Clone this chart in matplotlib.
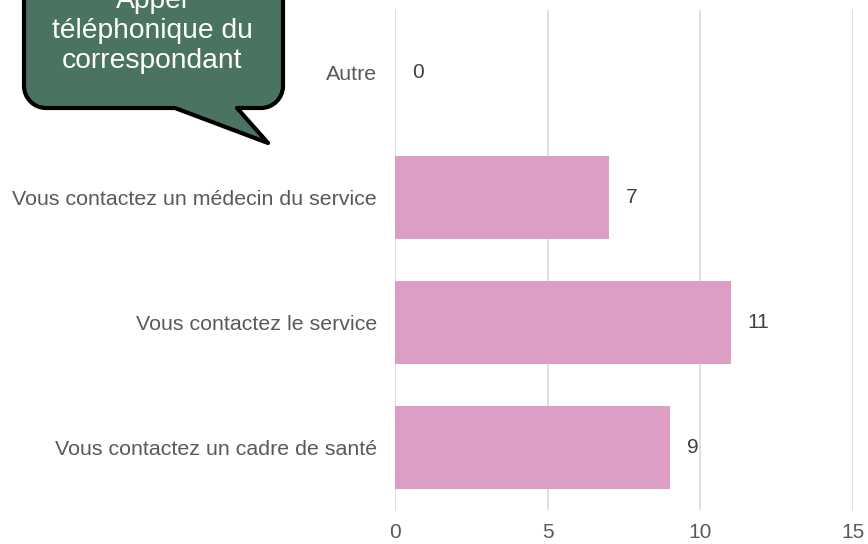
import numpy as np
import matplotlib
matplotlib.use('Agg')
import matplotlib.pyplot as plt
from matplotlib.path import Path
from matplotlib.patches import PathPatch

plt.rcParams['font.family'] = ['Liberation Sans', 'DejaVu Sans']

# === DATA ===
categories = ['Autre',
              'Vous contactez un médecin du service',
              'Vous contactez le service',
              'Vous contactez un cadre de santé']
values = [0, 7, 11, 9]
xticks = [0, 5, 10, 15]
callout_text = 'Appel\ntéléphonique du\ncorrespondant'

W, H = 868, 544
fig = plt.figure(figsize=(W / 100, H / 100), dpi=100)
ax = fig.add_axes([395 / W, 1 - 510 / H, 458 / W, 500 / H])

ypos = np.arange(len(categories))
ax.barh(ypos, values, height=0.66, color='#dc9ec5', linewidth=0, zorder=3)
for y, v in zip(ypos, values):
    ax.text(v + 0.55, y, str(v), va='center', ha='left',
            fontsize=15, color='#404040')

ax.set_xlim(0, 15)
ax.set_ylim(len(categories) - 0.5, -0.5)
ax.set_xticks(xticks)
ax.set_yticks(ypos)
ax.set_yticklabels(categories)
ax.tick_params(axis='both', length=0, labelsize=15.4, labelcolor='#595959')
ax.tick_params(axis='x', pad=9, labelsize=15)
ax.tick_params(axis='y', pad=13)
ax.grid(axis='x', color='#d9d9d9', linewidth=1.2, zorder=0)
for s in ax.spines.values():
    s.set_visible(False)


# === CALLOUT (pixel coords, y down) ===
def px(x, y):
    return (x / W, 1 - y / H)


L, R, T, B, r = 24, 283, -40, 108, 22
k = 0.55 * r
verts = [px(L + r, T), px(R - r, T),
         px(R - r + k, T), px(R, T + r - k), px(R, T + r),
         px(R, B - r),
         px(R, B - r + k), px(R - r + k, B), px(R - r, B),
         px(237, B), px(268, 143), px(175, B),
         px(L + r, B),
         px(L + r - k, B), px(L, B - r + k), px(L, B - r),
         px(L, T + r),
         px(L, T + r - k), px(L + r - k, T), px(L + r, T),
         px(L + r, T)]
codes = [Path.MOVETO, Path.LINETO,
         Path.CURVE4, Path.CURVE4, Path.CURVE4,
         Path.LINETO,
         Path.CURVE4, Path.CURVE4, Path.CURVE4,
         Path.LINETO, Path.LINETO, Path.LINETO,
         Path.LINETO,
         Path.CURVE4, Path.CURVE4, Path.CURVE4,
         Path.LINETO,
         Path.CURVE4, Path.CURVE4, Path.CURVE4,
         Path.CLOSEPOLY]
callout = PathPatch(Path(verts, codes), facecolor='#4a7461', edgecolor='black',
                    linewidth=3, transform=fig.transFigure, zorder=5,
                    joinstyle='round')
fig.patches.append(callout)
cx, cy = px(152, 31)
fig.text(cx, cy, callout_text, ha='center', va='center', color='white',
         fontsize=20.3, linespacing=1.2, zorder=6)

fig.savefig('out.png', dpi=100)
